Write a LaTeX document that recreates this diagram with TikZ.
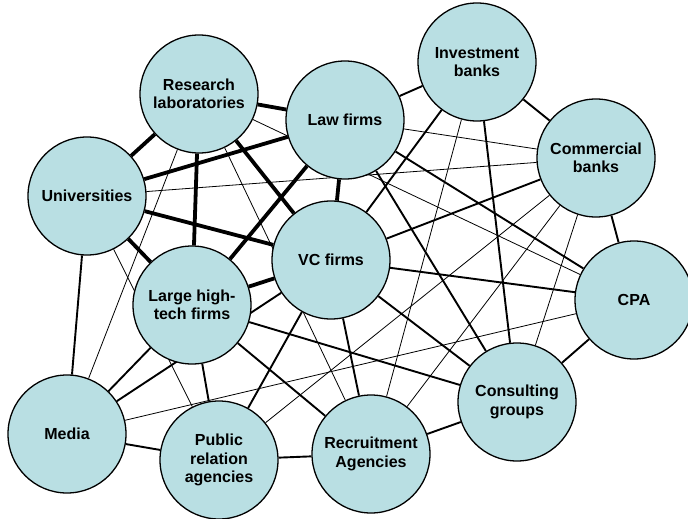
\documentclass[tikz,border=0pt]{standalone}
\usepackage{fontspec}
\setmainfont{Liberation Sans}
\usepackage{xcolor}
\usepackage{tikz}
\definecolor{actorfill}{RGB}{185,223,227}
\pgfdeclarelayer{edges}
\pgfsetlayers{edges,main}

\begin{document}
\begin{tikzpicture}[x=1pt,y=-1pt,
		actor/.style={circle,draw,line width=1.3pt,fill=actorfill,minimum size=118pt,inner sep=0pt,align=center,font=\bfseries\fontsize{16}{18.5}\selectfont},
		strong/.style={line width=3.8pt},
		medium/.style={line width=1.9pt},
		weak/.style={line width=0.8pt}]
		\useasboundingbox (0,0) rectangle (688,519);
		
		\node[actor] (res) at (199,94) {Research\\laboratories};
		\node[actor] (law) at (345,120) {Law firms};
		\node[actor] (inv) at (477,62) {Investment\\banks};
		\node[actor] (com) at (596,158) {Commercial\\banks};
		\node[actor] (uni) at (87,196) {Universities};
		\node[actor] (vc) at (331,260) {VC firms};
		\node[actor] (tech) at (192,305) {Large high-\\tech firms};
		\node[actor] (cpa) at (634,300) {CPA};
		\node[actor] (media) at (67,434) {Media};
		\node[actor] (pr) at (219,460) {Public\\relation\\agencies};
		\node[actor] (recr) at (371,454) {Recruitment\\Agencies};
		\node[actor] (cons) at (517,402) {Consulting\\groups};
		
		\begin{pgfonlayer}{edges}
		\foreach \a/\b in {res/law, res/uni, res/tech, res/vc, uni/law, uni/vc, uni/tech, law/vc, law/tech, vc/tech}{
			\draw[strong] (\a) -- (\b);
		}
		
		\foreach \a/\b in {law/inv, inv/com, com/cpa, cpa/cons, cons/recr, recr/pr, pr/media, media/uni, media/tech, media/vc, tech/pr, tech/cons, tech/recr, vc/pr, vc/recr, vc/cpa, vc/com, vc/inv, vc/cons, law/cons, law/cpa, inv/cons}{
			\draw[medium] (\a) -- (\b);
		}
		
		\foreach \a/\b in {law/com, uni/com, res/cpa, res/media, res/recr, uni/pr, inv/recr, com/pr, com/recr, com/cons, media/cpa}{
			\draw[weak] (\a) -- (\b);
		}
		\end{pgfonlayer}
	\end{tikzpicture}
\end{document}
